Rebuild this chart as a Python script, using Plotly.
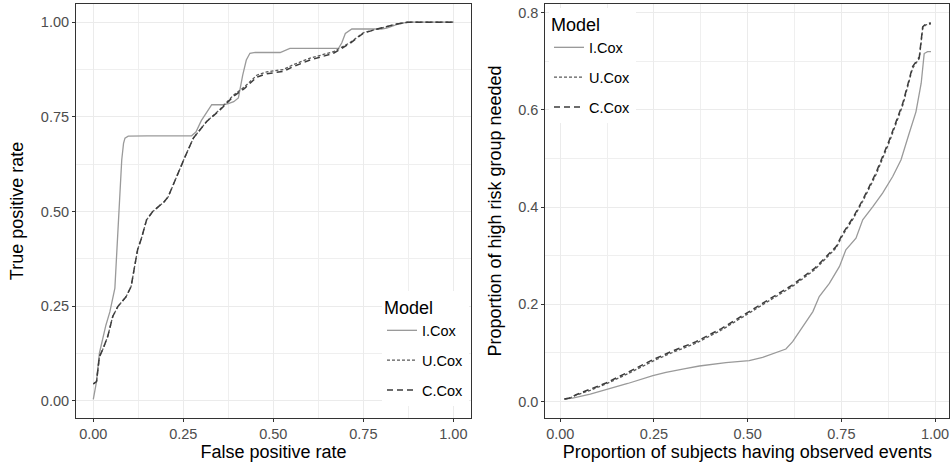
import plotly.graph_objects as go

# ---------------- data ----------------
models = ["I.Cox", "U.Cox", "C.Cox"]

# Left panel: ROC curves
roc_fpr_i = [0, 0.009, 0.017, 0.026, 0.035, 0.046, 0.055, 0.060, 0.064, 0.068, 0.072, 0.079, 0.084,
             0.088, 0.097, 0.15, 0.273, 0.285, 0.30, 0.329, 0.36, 0.375, 0.390, 0.403, 0.415, 0.425,
             0.435, 0.45, 0.519, 0.53, 0.546, 0.60, 0.681, 0.69, 0.70, 0.718, 0.80, 0.815, 0.83,
             0.85, 0.875, 1.0]
roc_tpr_i = [0.004, 0.051, 0.126, 0.166, 0.20, 0.235, 0.28, 0.298, 0.37, 0.452, 0.53, 0.636, 0.68,
             0.694, 0.699, 0.70, 0.70, 0.71, 0.74, 0.782, 0.782, 0.785, 0.79, 0.80, 0.86, 0.90,
             0.918, 0.92, 0.92, 0.925, 0.931, 0.931, 0.931, 0.945, 0.970, 0.982, 0.982, 0.984,
             0.99, 0.996, 1.0, 1.0]

roc_fpr_c = [0, 0.009, 0.017, 0.026, 0.040, 0.054, 0.068, 0.091, 0.105, 0.114, 0.123, 0.134, 0.142,
             0.148, 0.165, 0.176, 0.197, 0.208, 0.217, 0.227, 0.255, 0.278, 0.315, 0.352, 0.389,
             0.421, 0.454, 0.482, 0.528, 0.556, 0.602, 0.667, 0.713, 0.75, 0.796, 0.843, 0.875, 1.0]
roc_tpr_c = [0.045, 0.051, 0.117, 0.135, 0.170, 0.223, 0.249, 0.275, 0.302, 0.35, 0.399, 0.43, 0.456,
             0.478, 0.500, 0.509, 0.526, 0.539, 0.56, 0.584, 0.645, 0.694, 0.738, 0.768, 0.804,
             0.826, 0.855, 0.864, 0.870, 0.883, 0.900, 0.918, 0.944, 0.971, 0.984, 0.995, 1.0, 1.0]
roc_tpr_u = [0.045, 0.051, 0.117, 0.135, 0.170, 0.223, 0.249, 0.275, 0.302, 0.35, 0.399, 0.43, 0.456,
             0.478, 0.500, 0.509, 0.526, 0.539, 0.56, 0.584, 0.645, 0.694, 0.738, 0.770, 0.807,
             0.830, 0.860, 0.869, 0.875, 0.888, 0.905, 0.922, 0.946, 0.972, 0.984, 0.995, 1.0, 1.0]

# Right panel: proportion of high risk group needed
ev_x_i = [0.011, 0.033, 0.08, 0.122, 0.18, 0.247, 0.282, 0.33, 0.371, 0.442, 0.504, 0.54, 0.576,
          0.602, 0.62, 0.647, 0.674, 0.691, 0.718, 0.745, 0.762, 0.789, 0.807, 0.834, 0.86, 0.887,
          0.909, 0.931, 0.949, 0.963, 0.971, 0.98, 0.989]
ev_y_i = [0.005, 0.007, 0.015, 0.024, 0.037, 0.053, 0.060, 0.067, 0.073, 0.080, 0.084, 0.091, 0.100,
          0.108, 0.123, 0.154, 0.185, 0.216, 0.243, 0.278, 0.312, 0.336, 0.374, 0.401, 0.429, 0.463,
          0.497, 0.552, 0.596, 0.655, 0.716, 0.720, 0.720]

ev_x_c = [0.011, 0.025, 0.042, 0.08, 0.122, 0.18, 0.247, 0.30, 0.362, 0.43, 0.504, 0.56, 0.62, 0.68,
          0.736, 0.754, 0.78, 0.807, 0.842, 0.878, 0.914, 0.94, 0.958, 0.967, 0.975, 0.989]
ev_y_c = [0.005, 0.007, 0.014, 0.025, 0.038, 0.060, 0.086, 0.104, 0.123, 0.150, 0.185, 0.211, 0.240,
          0.275, 0.319, 0.346, 0.377, 0.415, 0.470, 0.538, 0.614, 0.689, 0.709, 0.771, 0.777, 0.779]
ev_y_u = [0.005, 0.007, 0.013, 0.023, 0.036, 0.057, 0.083, 0.101, 0.120, 0.147, 0.182, 0.208, 0.237,
          0.272, 0.316, 0.343, 0.374, 0.412, 0.466, 0.534, 0.610, 0.686, 0.706, 0.768, 0.775, 0.777]

# ---------------- styling ----------------
styles = {
    "I.Cox": dict(color="#9A9A9A", width=1.3, dash="solid"),
    "U.Cox": dict(color="#5A5A5A", width=1.3, dash="3px,2px"),
    "C.Cox": dict(color="#3C3C3C", width=1.5, dash="6px,4px"),
}

FONT = "Liberation Sans, Arial, sans-serif"
W, H = 952, 470

fig = go.Figure()

left_series = {"I.Cox": (roc_fpr_i, roc_tpr_i), "U.Cox": (roc_fpr_c, roc_tpr_u), "C.Cox": (roc_fpr_c, roc_tpr_c)}
right_series = {"I.Cox": (ev_x_i, ev_y_i), "U.Cox": (ev_x_c, ev_y_u), "C.Cox": (ev_x_c, ev_y_c)}

for m in models:
    x, y = left_series[m]
    fig.add_trace(go.Scatter(x=x, y=y, mode="lines", name=m, line=styles[m],
                             xaxis="x", yaxis="y", legend="legend", legendgroup="L" + m))
for m in models:
    x, y = right_series[m]
    fig.add_trace(go.Scatter(x=x, y=y, mode="lines", name=m, line=styles[m],
                             xaxis="x2", yaxis="y2", legend="legend2", legendgroup="R" + m))

def px_x(p):
    return p / W

def px_y(p):
    return 1 - p / H

axis_common = dict(
    showline=True, linecolor="#333333", linewidth=1, mirror=True,
    showgrid=True, gridcolor="#EBEBEB", gridwidth=1.1,
    zeroline=False, ticks="outside", ticklen=3, tickcolor="#333333", tickwidth=1,
    tickfont=dict(family=FONT, size=14.5, color="#4D4D4D"),
)
title_font = dict(family=FONT, size=18, color="black")
minor4 = dict(showgrid=True, gridcolor="#EFEFEF", gridwidth=0.6, dtick=0.125, tick0=0.125)

legend_common = dict(
    xanchor="left", yanchor="top", bgcolor="white", borderwidth=0,
    title=dict(text="Model", font=dict(family=FONT, size=18, color="black")),
    font=dict(family=FONT, size=14.5, color="black"),
    tracegroupgap=8, itemwidth=30,
)

fig.update_layout(
    width=W, height=H,
    margin=dict(l=0, r=0, t=0, b=0),
    paper_bgcolor="white", plot_bgcolor="white",
    font=dict(family=FONT),
    xaxis=dict(domain=[px_x(76), px_x(471)], range=[-0.048, 1.049],
               tickvals=[0, 0.25, 0.5, 0.75, 1.0], ticktext=["0.00", "0.25", "0.50", "0.75", "1.00"],
               minor=minor4,
               title=dict(text="False positive rate", font=title_font, standoff=3),
               anchor="y", **axis_common),
    yaxis=dict(domain=[px_y(418), px_y(4)], range=[-0.045, 1.048],
               tickvals=[0, 0.25, 0.5, 0.75, 1.0], ticktext=["0.00", "0.25", "0.50", "0.75", "1.00"],
               minor=minor4,
               title=dict(text="True positive rate", font=title_font, standoff=12),
               anchor="x", **axis_common),
    xaxis2=dict(domain=[px_x(545.3), px_x(949.3)], range=[-0.04, 1.038],
                tickvals=[0, 0.25, 0.5, 0.75, 1.0], ticktext=["0.00", "0.25", "0.50", "0.75", "1.00"],
                minor=minor4,
                title=dict(text="Proportion of subjects having observed events", font=title_font, standoff=3),
                anchor="y2", **axis_common),
    yaxis2=dict(domain=[px_y(418), px_y(4)], range=[-0.034, 0.818],
                tickvals=[0, 0.2, 0.4, 0.6, 0.8], ticktext=["0.0", "0.2", "0.4", "0.6", "0.8"],
                minor=dict(showgrid=True, gridcolor="#EFEFEF", gridwidth=0.6, dtick=0.1, tick0=0.1),
                title=dict(text="Proportion of high risk group needed", font=title_font, standoff=11),
                anchor="x2", **axis_common),
    legend=dict(x=px_x(382), y=px_y(291), **legend_common),
    legend2=dict(x=px_x(549), y=px_y(8), **legend_common),
    showlegend=True,
)

fig.write_html("out.html", config={"displayModeBar": False},
               post_script="document.body.style.margin='0';document.body.style.padding='0';")
